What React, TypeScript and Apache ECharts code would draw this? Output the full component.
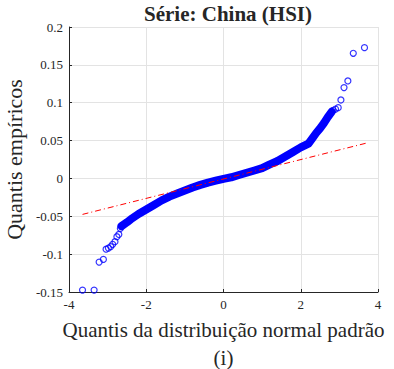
import React, { useEffect, useRef } from "react";
import * as echarts from "echarts";

const xTicks = [-4, -2, 0, 2, 4];
const yTicks = [-0.15, -0.1, -0.05, 0, 0.05, 0.1, 0.15, 0.2];

const bandX = [-2.64, -2.5, -2.4, -2.2, -2.0, -1.8, -1.6, -1.4, -1.2, -1.0, -0.8, -0.6, -0.4, -0.2, 0, 0.2, 0.4, 0.6, 0.8, 1.0, 1.2, 1.4, 1.6, 1.8, 2.0, 2.2, 2.3, 2.4, 2.5, 2.6, 2.7, 2.8];
const bandY = [-0.063, -0.058, -0.054, -0.047, -0.041, -0.035, -0.029, -0.024, -0.02, -0.016, -0.012, -0.0085, -0.0055, -0.003, -0.0005, 0.0015, 0.0045, 0.0075, 0.0105, 0.0135, 0.0185, 0.023, 0.029, 0.035, 0.041, 0.046, 0.053, 0.06, 0.066, 0.073, 0.081, 0.088];

// sparse tail points
const tailX = [-3.65, -3.35, -3.22, -3.11, -3.04, -2.98, -2.92, -2.87, -2.81, -2.76, -2.71, -2.67, 2.84, 2.9, 2.97, 3.04, 3.12, 3.22, 3.36, 3.65];
const tailY = [-0.1475, -0.1475, -0.1105, -0.107, -0.0935, -0.092, -0.09, -0.087, -0.0836, -0.077, -0.074, -0.066, 0.09, 0.0915, 0.0935, 0.1036, 0.12, 0.1287, 0.1653, 0.1727];

// reference line endpoints
const refX = [-3.65, 3.68];
const refY = [-0.0475, 0.0464];

const FONT = "'Liberation Serif', 'Times New Roman', serif";
const DARK = "#262626";

export default function App() {
  const ref = useRef<HTMLDivElement>(null);
  useEffect(() => {
    if (!ref.current) return;
    const chart = echarts.init(ref.current, null, { renderer: "svg" });
    chart.setOption({
      animation: false,
      backgroundColor: "#ffffff",
      textStyle: { fontFamily: FONT },
      title: {
        text: "Série: China (HSI)",
        left: 223,
        textAlign: "center",
        top: -2,
        textStyle: { fontFamily: FONT, fontWeight: "bold", fontSize: 21, color: DARK },
      },
      grid: { left: 69, right: 16, top: 27, bottom: 77, containLabel: false, outerBoundsMode: "none" },
      xAxis: {
        type: "value",
        min: xTicks[0],
        max: xTicks[xTicks.length - 1],
        interval: 2,
        name: "Quantis da distribuição normal padrão\n(i)",
        nameLocation: "middle",
        nameGap: 19,
        nameTextStyle: { fontFamily: FONT, fontSize: 21, color: DARK, lineHeight: 28, verticalAlign: "top" },
        axisLine: { show: true, onZero: false, lineStyle: { color: DARK, width: 1 } },
        axisTick: { show: true, inside: true, length: 3, lineStyle: { color: DARK } },
        axisLabel: { fontFamily: FONT, fontSize: 13, color: DARK, margin: 6 },
        splitLine: { show: true, lineStyle: { color: "#e3e3e3", width: 1 } },
      },
      yAxis: {
        type: "value",
        min: yTicks[0],
        max: yTicks[yTicks.length - 1],
        interval: 0.05,
        name: "Quantis empíricos",
        nameLocation: "middle",
        nameGap: 26,
        nameRotate: 90,
        nameTextStyle: { fontFamily: FONT, fontSize: 22, color: DARK },
        axisLine: { show: true, onZero: false, lineStyle: { color: DARK, width: 1 } },
        axisTick: { show: true, inside: true, length: 3, lineStyle: { color: DARK } },
        axisLabel: {
          fontFamily: FONT,
          fontSize: 13,
          color: DARK,
          margin: 6,
          formatter: (v: number) => String(parseFloat(v.toFixed(2))),
        },
        splitLine: { show: true, lineStyle: { color: "#e3e3e3", width: 1 } },
      },
      series: [
        {
          type: "line",
          data: bandX.map((x, i) => [x, bandY[i]]),
          showSymbol: false,
          symbol: "none",
          lineStyle: { color: "#0000ff", width: 8, cap: "round", join: "round" },
          z: 2,
        },
        {
          type: "scatter",
          data: tailX.map((x, i) => [x, tailY[i]]),
          symbol: "circle",
          symbolSize: 6,
          itemStyle: { color: "rgba(0,0,0,0)", borderColor: "#0000ff", borderWidth: 1.2 },
          z: 3,
        },
        {
          type: "line",
          data: refX.map((x, i) => [x, refY[i]]),
          showSymbol: false,
          symbol: "none",
          lineStyle: { color: "#ff0000", width: 1, type: [6, 3, 1, 3] },
          z: 4,
        },
      ],
    });
    return () => chart.dispose();
  }, []);
  return <div ref={ref} style={{ width: 394, height: 369, position: "absolute", left: 0, top: 0 }} />;
}
